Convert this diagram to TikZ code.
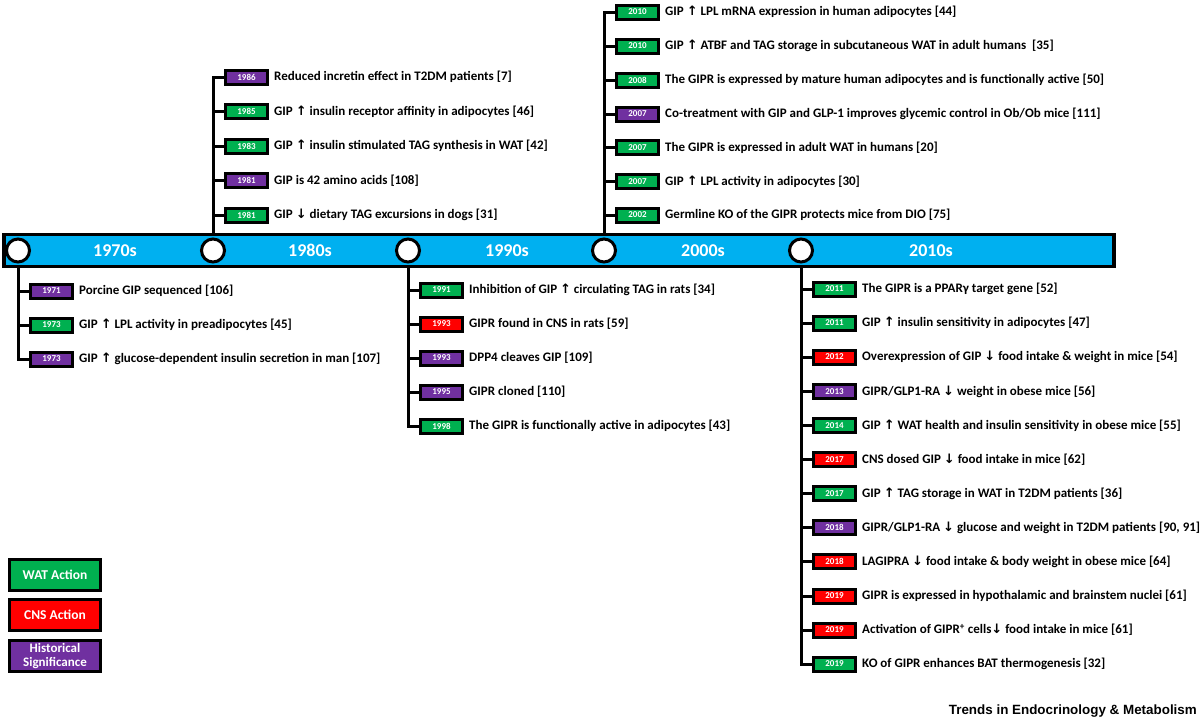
\documentclass[tikz,border=0pt]{standalone}
\usepackage{fontspec}
\usetikzlibrary{backgrounds}
\setmainfont{Carlito}
\newfontfamily\arrowfont{DejaVu Sans}
\newfontfamily\trendsfont{Liberation Sans}
\definecolor{wat}{RGB}{0,176,80}
\definecolor{cns}{RGB}{255,0,0}
\definecolor{hist}{RGB}{112,48,160}
\definecolor{barblue}{RGB}{0,176,240}
\newcommand\uparr{{\arrowfont\bfseries ↑}}
\newcommand\dnarr{{\arrowfont\bfseries ↓}}
\newcommand\ev[6]{%
  \node[yearbox,fill=#4] (#1) at (#2,#3) {#5};
  \node[evt] (#1t) at ([xshift=5pt]#1.east) {#6};}
\tikzset{
  yearbox/.style={draw=black, line width=3pt, minimum width=42pt, minimum height=14pt, inner sep=0pt, text=white, font=\bfseries\fontsize{9}{10}\selectfont},
  evt/.style={anchor=west, inner sep=0pt, font=\bfseries\fontsize{13}{15}\selectfont},
  conn/.style={line width=3pt},
  dot/.style={circle, draw=black, fill=white, line width=3pt, minimum size=23pt, inner sep=0pt},
  decade/.style={text=white, font=\bfseries\fontsize{18}{20}\selectfont},
  legbox/.style={draw=black, line width=3pt, minimum width=91pt, minimum height=31pt, inner sep=0pt, text=white, align=center, font=\bfseries\fontsize{13.5}{15}\selectfont},
}
\begin{document}
\begin{tikzpicture}[x=1pt,y=-1pt]
\useasboundingbox (0,0) rectangle (1200,721);
% timeline bar
\node[draw=black, line width=3.2pt, fill=barblue, minimum width=1110pt, minimum height=32pt, inner sep=0pt] (bar) at (559,250.5) {};
\node[decade] (d70) at (115,250.5) {1970s};
\node[decade] (d80) at (310,250.5) {1980s};
\node[decade] (d90) at (507,250.5) {1990s};
\node[decade] (d00) at (703,250.5) {2000s};
\node[decade] (d10) at (931,250.5) {2010s};
\node[dot] (o1) at (18,250.5) {};
\node[dot] (o2) at (213,250.5) {};
\node[dot] (o3) at (408,250.5) {};
\node[dot] (o4) at (604,250.5) {};
\node[dot] (o5) at (801,250.5) {};

% 1970s
\ev{a1}{51.5}{291}{hist}{1971}{Porcine GIP sequenced [106]}
\ev{a2}{51.5}{325}{wat}{1973}{GIP \uparr{} LPL activity in preadipocytes [45]}
\ev{a3}{51.5}{359}{hist}{1973}{GIP \uparr{} glucose-dependent insulin secretion in man [107]}
% 1980s
\ev{b1}{246.5}{77}{hist}{1986}{Reduced incretin effect in T2DM patients [7]}
\ev{b2}{246.5}{111.5}{wat}{1985}{GIP \uparr{} insulin receptor affinity in adipocytes [46]}
\ev{b3}{246.5}{146}{wat}{1983}{GIP \uparr{} insulin stimulated TAG synthesis in WAT [42]}
\ev{b4}{246.5}{180.5}{hist}{1981}{GIP is 42 amino acids [108]}
\ev{b5}{246.5}{215}{wat}{1981}{GIP \dnarr{} dietary TAG excursions in dogs [31]}
% 1990s
\ev{e1}{441.5}{290}{wat}{1991}{Inhibition of GIP \uparr{} circulating TAG in rats [34]}
\ev{e2}{441.5}{324}{cns}{1993}{GIPR found in CNS in rats [59]}
\ev{e3}{441.5}{358}{hist}{1993}{DPP4 cleaves GIP [109]}
\ev{e4}{441.5}{392}{hist}{1995}{GIPR cloned [110]}
\ev{e5}{441.5}{426}{wat}{1998}{The GIPR is functionally active in adipocytes [43]}
% 2000s
\ev{f1}{637.5}{12}{wat}{2010}{GIP \uparr{} LPL mRNA expression in human adipocytes [44]}
\ev{f2}{637.5}{46}{wat}{2010}{GIP \uparr{} ATBF and TAG storage in subcutaneous WAT in adult humans \ [35]}
\ev{f3}{637.5}{80}{wat}{2008}{The GIPR is expressed by mature human adipocytes and is functionally active [50]}
\ev{f4}{637.5}{114}{hist}{2007}{Co-treatment with GIP and GLP-1 improves glycemic control in Ob/Ob mice [111]}
\ev{f5}{637.5}{147.5}{wat}{2007}{The GIPR is expressed in adult WAT in humans [20]}
\ev{f6}{637.5}{181.5}{wat}{2007}{GIP \uparr{} LPL activity in adipocytes [30]}
\ev{f7}{637.5}{215}{wat}{2002}{Germline KO of the GIPR protects mice from DIO [75]}
% 2010s
\ev{g1}{834.5}{289}{wat}{2011}{The GIPR is a PPARγ target gene [52]}
\ev{g2}{834.5}{323}{wat}{2011}{GIP \uparr{} insulin sensitivity in adipocytes [47]}
\ev{g3}{834.5}{357}{cns}{2012}{Overexpression of GIP \dnarr{} food intake \& weight in mice [54]}
\ev{g4}{834.5}{391.5}{hist}{2013}{GIPR/GLP1-RA \dnarr{} weight in obese mice [56]}
\ev{g5}{834.5}{425.5}{wat}{2014}{GIP \uparr{} WAT health and insulin sensitivity in obese mice [55]}
\ev{g6}{834.5}{459.5}{cns}{2017}{CNS dosed GIP \dnarr{} food intake in mice [62]}
\ev{g7}{834.5}{493.5}{wat}{2017}{GIP \uparr{} TAG storage in WAT in T2DM patients [36]}
\ev{g8}{834.5}{527.5}{hist}{2018}{GIPR/GLP1-RA \dnarr{} glucose and weight in T2DM patients [90, 91]}
\ev{g9}{834.5}{561.5}{cns}{2018}{LAGIPRA \dnarr{} food intake \& body weight in obese mice [64]}
\ev{g10}{834.5}{596}{cns}{2019}{GIPR is expressed in hypothalamic and brainstem nuclei [61]}
\ev{g11}{834.5}{630}{cns}{2019}{Activation of GIPR\textsuperscript{+} cells\dnarr{} food intake in mice [61]}
\ev{g12}{834.5}{664}{wat}{2019}{KO of GIPR enhances BAT thermogenesis [32]}

% connectors (behind bar and boxes)
\begin{scope}[on background layer]
\draw[conn] (o1.center) |- (a3.west);
\foreach \n in {a1,a2} \draw[conn] (o1.center |- \n.west) -- (\n.west);
\draw[conn] (o2.center) |- (b1.west);
\foreach \n in {b2,b3,b4,b5} \draw[conn] (o2.center |- \n.west) -- (\n.west);
\draw[conn] (o3.center) |- (e5.west);
\foreach \n in {e1,e2,e3,e4} \draw[conn] (o3.center |- \n.west) -- (\n.west);
\draw[conn] (o4.center) |- (f1.west);
\foreach \n in {f2,f3,f4,f5,f6,f7} \draw[conn] (o4.center |- \n.west) -- (\n.west);
\draw[conn] (o5.center) |- (g12.west);
\foreach \n in {g1,g2,g3,g4,g5,g6,g7,g8,g9,g10,g11} \draw[conn] (o5.center |- \n.west) -- (\n.west);
\end{scope}

% legend
\node[legbox, fill=wat] (lw) at (55,575) {WAT Action};
\node[legbox, fill=cns] (lc) at (55,615) {CNS Action};
\node[legbox, fill=hist, font=\bfseries\fontsize{13}{13.5}\selectfont] (lh) at (55,656) {Historical\\Significance};

\node[anchor=base east, inner sep=0pt, font=\trendsfont\bfseries\fontsize{13.4}{15}\selectfont] (src) at (1197,714) {Trends in Endocrinology \& Metabolism};
\end{tikzpicture}
\end{document}
